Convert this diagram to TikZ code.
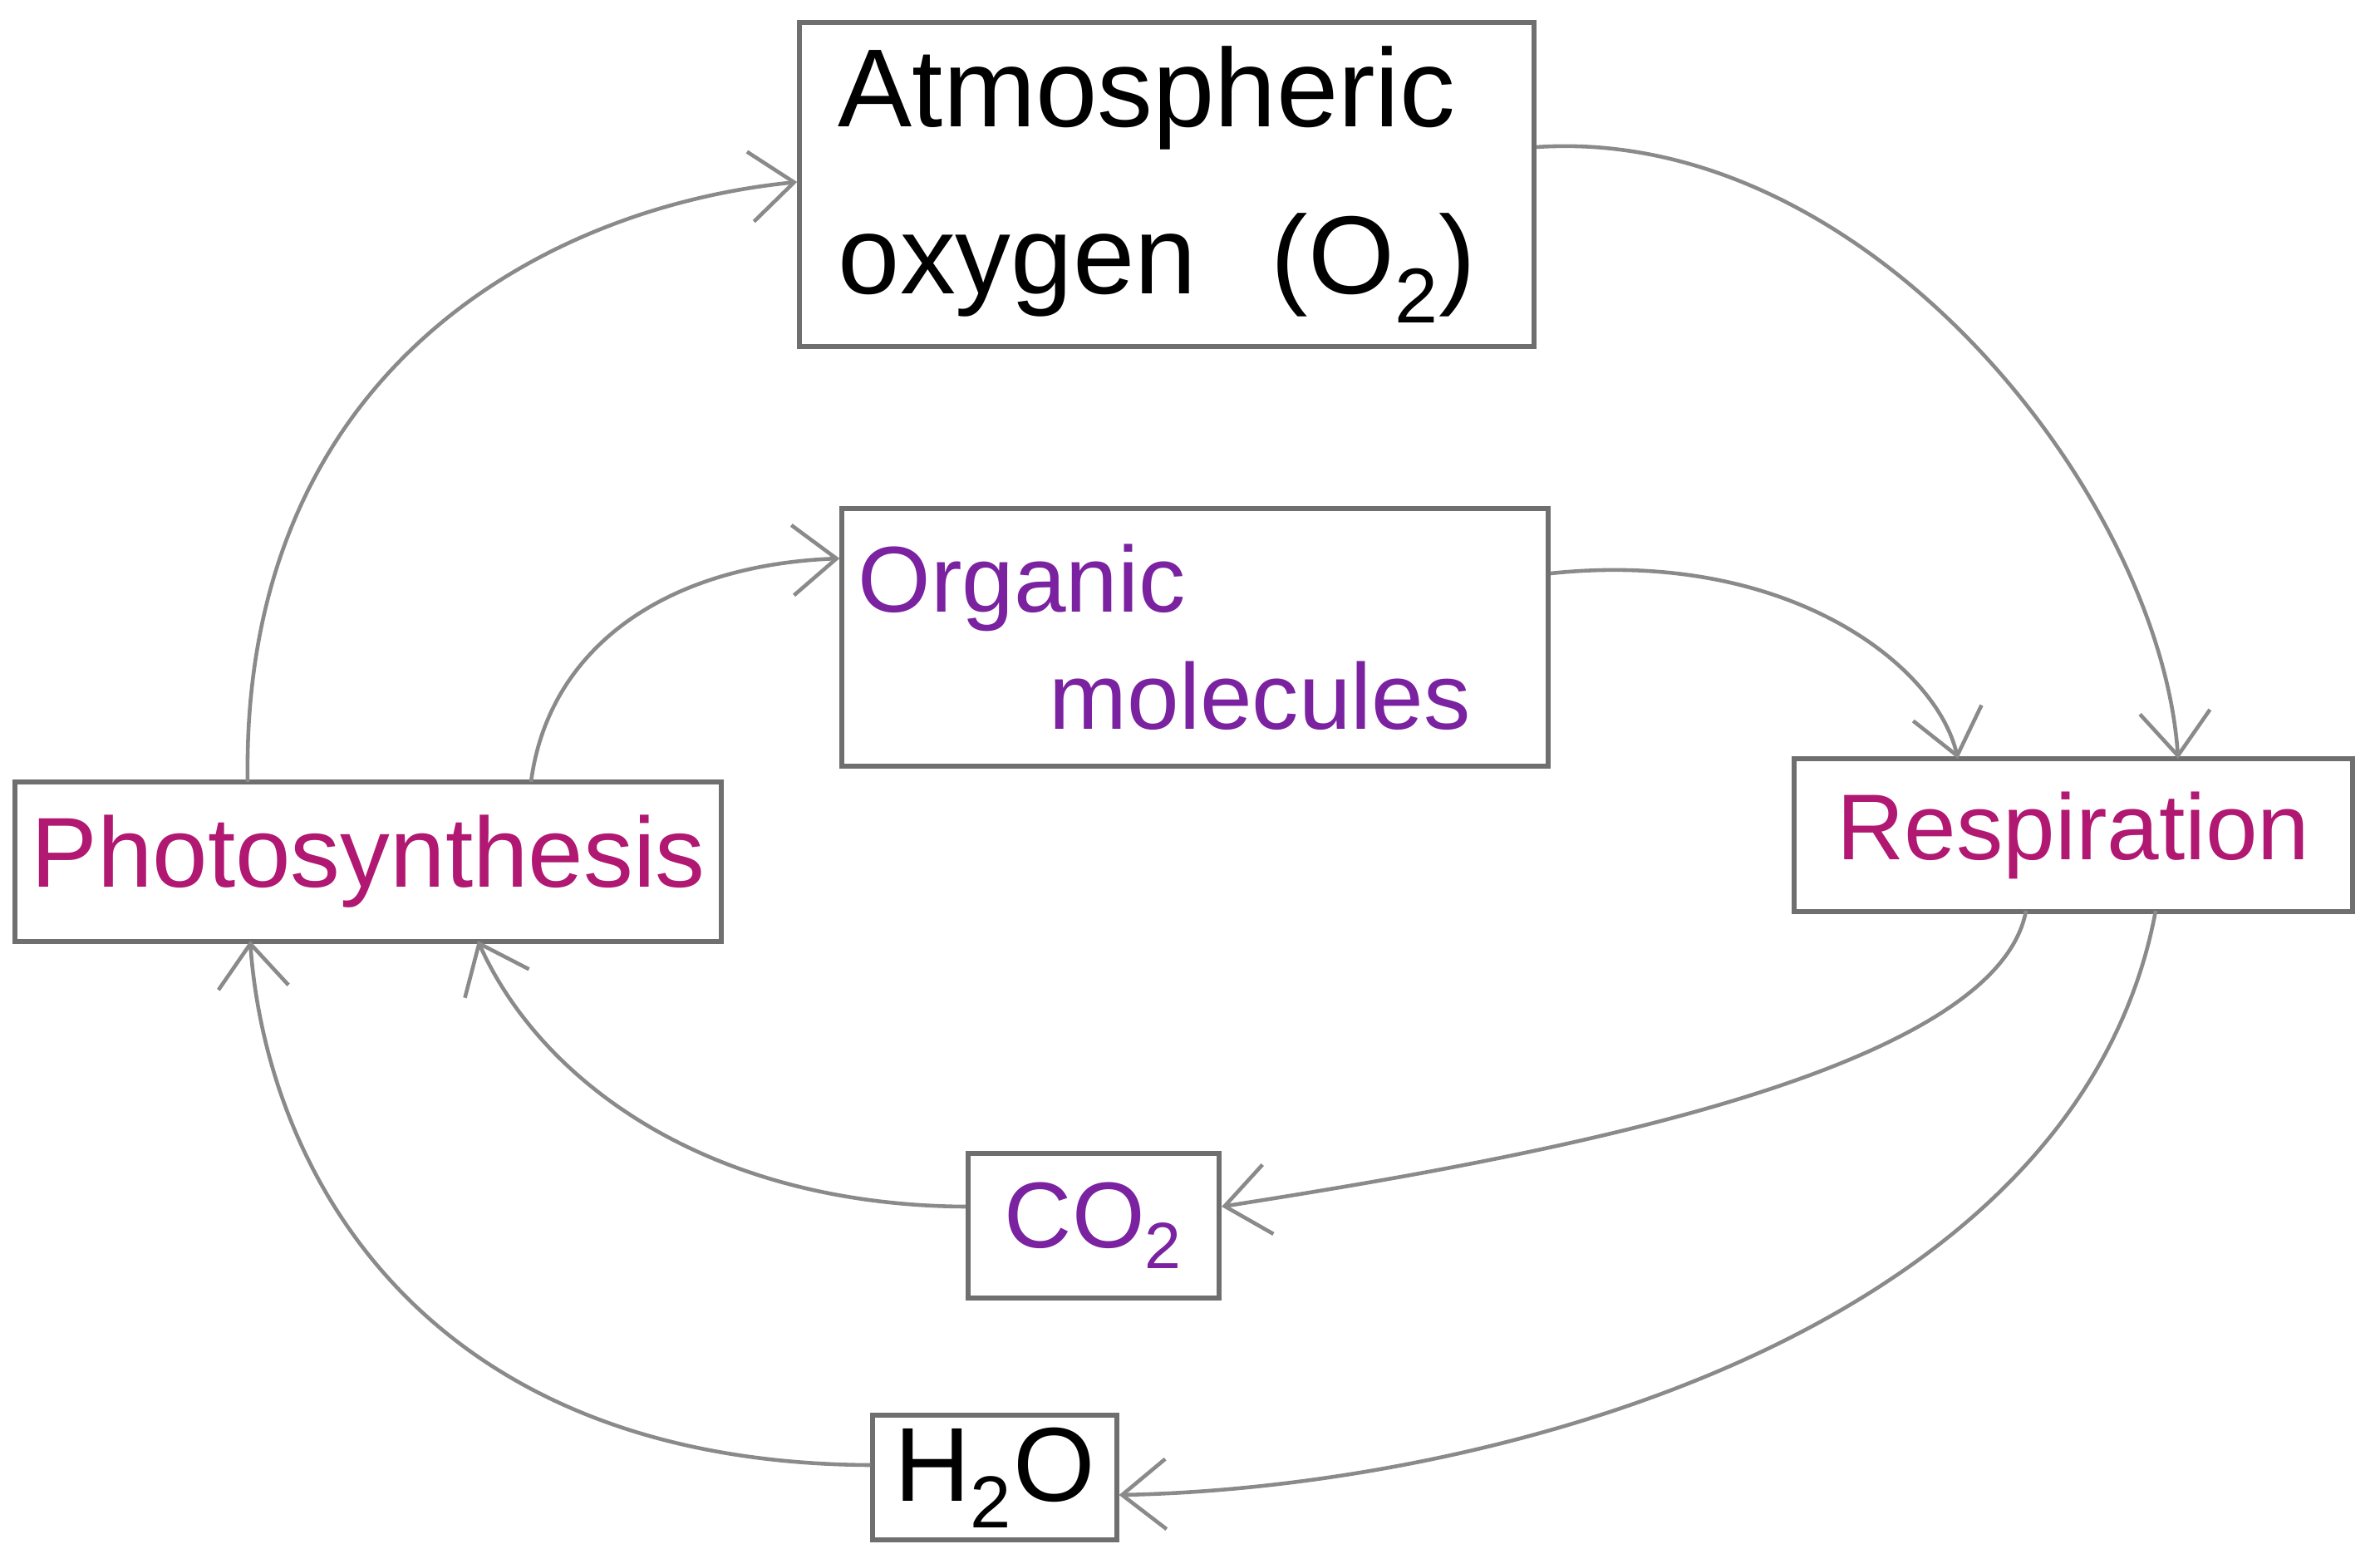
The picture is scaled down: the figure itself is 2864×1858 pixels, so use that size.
\documentclass[tikz,border=0pt]{standalone}
\usepackage{fontspec}
\setmainfont{Liberation Sans}
\usetikzlibrary{arrows.meta}
\definecolor{boxgray}{HTML}{6F6F6F}
\definecolor{linegray}{HTML}{8A8A8A}
\definecolor{magtext}{HTML}{B01872}
\definecolor{purtext}{HTML}{7A22A0}
\tikzset{
  box/.style={draw=boxgray, line width=1.7pt, rectangle, inner sep=0pt},
  conn/.style={draw=linegray, line width=1.3pt, -{Straight Barb[length=15pt,width=24pt,line width=1.3pt]}},
}
\begin{document}
\begin{tikzpicture}[x=0.01cm,y=-0.01cm]
\useasboundingbox[fill=white] (0,0) rectangle (2864,1858);
% boxes
\node[box, minimum width=8.83cm, minimum height=3.89cm, text width=7.9cm, align=left, font=\fontsize{38}{57}\selectfont] (atm) at (1404,222) {Atmospheric\\oxygen\hspace{0.9cm}(O\textsubscript{2})};
\node[box, minimum width=8.49cm, minimum height=3.10cm, text width=8.1cm, align=left, text=purtext, font=\fontsize{32}{40}\selectfont] (org) at (1438,767) {Organic\\\hspace{2.3cm}molecules};
\node[box, minimum width=8.50cm, minimum height=1.91cm, text=magtext, font=\fontsize{34}{40}\selectfont] (pho) at (443,1037) {Photosynthesis};
\node[box, minimum width=6.72cm, minimum height=1.83cm, text=magtext, font=\fontsize{32}{40}\selectfont] (res) at (2495,1005) {Respiration};
\node[box, minimum width=3.02cm, minimum height=1.74cm, text=purtext, font=\fontsize{32}{40}\selectfont] (co2) at (1316,1475) {CO\textsubscript{2}};
\node[box, minimum width=2.93cm, minimum height=1.49cm, font=\fontsize{36}{40}\selectfont] (h2o) at (1197,1778) {H\textsubscript{2}O};
% connector end points
\coordinate (p1) at (298,941);
\coordinate (p2) at (639,941);
\coordinate (r1) at (2356,913);
\coordinate (r2) at (2621,913);
\coordinate (r3) at (2438,1096);
\coordinate (r4) at (2594,1096);
\coordinate (p3) at (575,1132);
\coordinate (p4) at (301,1132);
% connectors
\draw[conn] (p1) .. controls (290,450) and (650,250) .. (atm.west |- 0,219);
\draw[conn] (p2) .. controls (660,780) and (800,680) .. (org.west |- 0,672);
\draw[conn] (atm.east |- 0,177) .. controls (2250,150) and (2600,600) .. (r2);
\draw[conn] (org.east |- 0,690) .. controls (2150,660) and (2330,800) .. (r1);
\draw[conn] (r3) .. controls (2400,1300) and (1800,1400) .. (co2.east |- 0,1452);
\draw[conn] (r4) .. controls (2500,1600) and (1800,1790) .. (h2o.east |- 0,1799);
\draw[conn] (co2.west |- 0,1452) .. controls (850,1450) and (650,1300) .. (p3);
\draw[conn] (h2o.west |- 0,1763) .. controls (500,1760) and (320,1400) .. (p4);
\end{tikzpicture}
\end{document}
